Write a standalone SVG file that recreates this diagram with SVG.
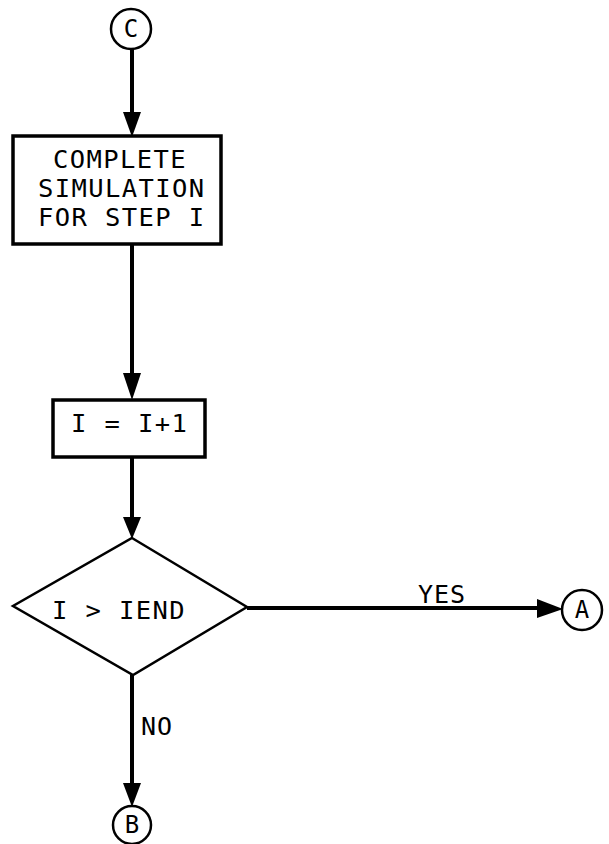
<svg xmlns="http://www.w3.org/2000/svg" width="609" height="844" viewBox="0 0 609 844">
  <style>
    .shape { fill: #fff; stroke: #000; }
    .box { stroke-width: 3.5; }
    .circ { stroke-width: 2.5; }
    .dia { stroke-width: 2.5; stroke-linejoin: miter; }
    .txt { font-family: "DejaVu Sans Mono", "Liberation Mono", monospace; font-size: 25.5px; fill: #000; letter-spacing: 1.4px; }
    .lbl { font-family: "DejaVu Sans Mono", "Liberation Mono", monospace; font-size: 25px; fill: #000; letter-spacing: 1px; }
    .cl { font-family: "DejaVu Sans Mono", "Liberation Mono", monospace; font-size: 24px; fill: #000; }
    .conn { fill: none; stroke: #000; stroke-width: 4; }
    .head { fill: #000; stroke: none; }
  </style>
  <rect width="609" height="844" fill="#fff"/>

  <g id="connectors">
    <line class="conn" x1="132" y1="48" x2="132" y2="115"/>
    <polygon class="head" points="123,112 141,112 132,137"/>
    <line class="conn" x1="132" y1="244" x2="132" y2="376"/>
    <polygon class="head" points="123,373 141,373 132,400"/>
    <line class="conn" x1="132" y1="457" x2="132" y2="520"/>
    <polygon class="head" points="123,517 141,517 132,539"/>
    <line class="conn" x1="247" y1="608" x2="540" y2="608"/>
    <polygon class="head" points="537,599 537,618 563,609"/>
    <line class="conn" x1="132" y1="675" x2="132" y2="786"/>
    <polygon class="head" points="123,783 141,783 132,807"/>
    <text class="lbl" x="418" y="603">YES</text>
    <text class="lbl" x="141" y="735">NO</text>
  </g>

  <g id="node-C">
    <circle class="shape circ" cx="131" cy="29" r="20"/>
    <text class="cl" x="131" y="37" text-anchor="middle">C</text>
  </g>

  <g id="node-simulate">
    <rect class="shape box" x="13" y="136" width="208" height="108"/>
    <text class="txt" x="53" y="168">COMPLETE</text>
    <text class="txt" x="38" y="197">SIMULATION</text>
    <text class="txt" x="38" y="226">FOR STEP I</text>
  </g>

  <g id="node-increment">
    <rect class="shape box" x="53" y="400" width="152" height="57"/>
    <text class="txt" x="71" y="432">I = I+1</text>
  </g>

  <g id="node-decision">
    <polygon class="shape dia" points="132,538 247,607 133,675 13,606"/>
    <text class="txt" x="52" y="619">I &gt; IEND</text>
  </g>

  <g id="node-A">
    <circle class="shape circ" cx="582" cy="610" r="20"/>
    <text class="cl" x="582" y="618" text-anchor="middle">A</text>
  </g>

  <g id="node-B">
    <circle class="shape circ" cx="132" cy="825" r="19"/>
    <text class="cl" x="132" y="833" text-anchor="middle">B</text>
  </g>
</svg>
